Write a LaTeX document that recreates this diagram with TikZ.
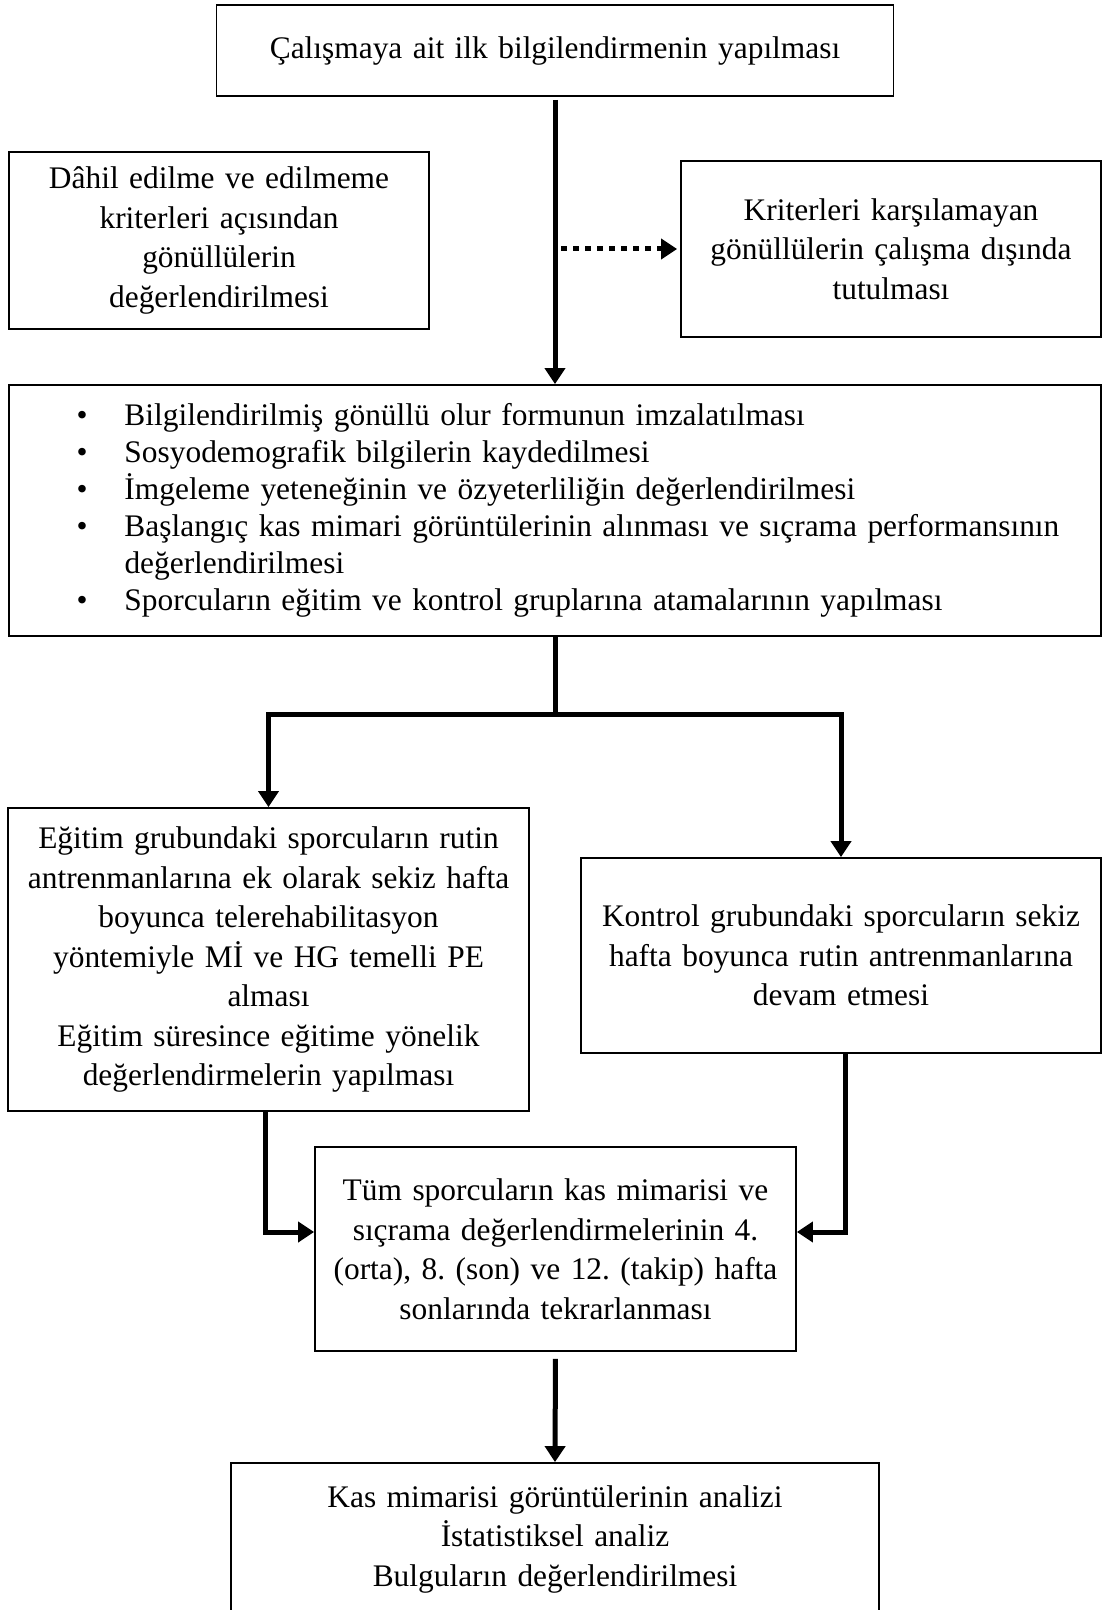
\documentclass[tikz,border=0pt]{standalone}
\usepackage{fontspec}
\setmainfont{Liberation Serif}
\usetikzlibrary{arrows.meta}
\frenchspacing
\newcommand\bitem[1]{\mbox{\makebox[24pt][l]{\textbullet}#1}}
\newcommand\bcont[1]{\mbox{\hspace*{24pt}#1}}
\begin{document}
\begin{tikzpicture}[x=0.5pt,y=-0.5pt,
  box/.style={draw, line width=0.9pt, inner sep=0pt, align=center,
              font=\fontsize{15.7pt}{19.75pt}\selectfont},
  arr/.style={line width=2.5pt, -{Triangle[length=8pt,width=10pt]}},
  dotarr/.style={line width=2.5pt, dash pattern=on 3pt off 3pt,
                 -{Triangle[length=8pt,width=10pt]}},
  bar/.style={line width=2.5pt}]
\useasboundingbox (0,0) rectangle (1102,1610);

\node[box, minimum width=338.5pt, minimum height=45.5pt, text width=330pt]
  (top) at (555,50.5) {Çalışmaya ait ilk bilgilendirmenin yapılması};

\node[box, minimum width=210pt, minimum height=88.5pt, text width=200pt]
  (crit) at (219,240.5) {Dâhil edilme ve edilmeme\\ kriterleri açısından\\ gönüllülerin\\ değerlendirilmesi};

\node[box, minimum width=210pt, minimum height=88pt, text width=200pt]
  (excl) at (891,249) {Kriterleri karşılamayan\\ gönüllülerin çalışma dışında\\ tutulması};

\node[box, minimum width=546pt, minimum height=125.5pt, text width=478.5pt,
      align=left, font=\fontsize{15.7pt}{18.5pt}\selectfont]
  (bul) at (555,510.5) {%
  \bitem{Bilgilendirilmiş gönüllü olur formunun imzalatılması}\\
  \bitem{Sosyodemografik bilgilerin kaydedilmesi}\\
  \bitem{İmgeleme yeteneğinin ve özyeterliliğin değerlendirilmesi}\\
  \bitem{Başlangıç kas mimari görüntülerinin alınması ve sıçrama performansının}\\
  \bcont{değerlendirilmesi}\\
  \bitem{Sporcuların eğitim ve kontrol gruplarına atamalarının yapılması}};

\node[box, minimum width=260.5pt, minimum height=151.5pt, text width=255pt]
  (egit) at (268.5,959.5) {Eğitim grubundaki sporcuların rutin\\
  antrenmanlarına ek olarak sekiz hafta\\
  boyunca telerehabilitasyon\\
  yöntemiyle Mİ ve HG temelli PE\\
  alması\\
  Eğitim süresince eğitime yönelik\\
  değerlendirmelerin yapılması};

\node[box, minimum width=260pt, minimum height=97.5pt, text width=255pt]
  (kontrol) at (841,955.5) {Kontrol grubundaki sporcuların sekiz\\
  hafta boyunca rutin antrenmanlarına\\
  devam etmesi};

\node[box, minimum width=240.5pt, minimum height=102pt, text width=235pt]
  (tum) at (555.5,1249) {Tüm sporcuların kas mimarisi ve\\
  sıçrama değerlendirmelerinin 4.\\
  (orta), 8. (son) ve 12. (takip) hafta\\
  sonlarında tekrarlanması};

\node[box, minimum width=324pt, minimum height=76pt, text width=315pt]
  (son) at (555,1539) {Kas mimarisi görüntülerinin analizi\\
  İstatistiksel analiz\\
  Bulguların değerlendirilmesi};

% connectors
\draw[arr, shorten <=1.5pt] (top.south) -- (top.south |- bul.north);
\coordinate (dj) at (top.south |- excl.west);
\draw[dotarr, shorten <=3pt, shorten >=1.5pt] (dj) -- (excl.west);

\coordinate (br) at (555,714);
\draw[bar] (bul.south) -- (br);
\draw[arr] (br) -| (egit.north);
\draw[arr] (br) -| (kontrol.north);

\draw[arr] ([xshift=-1.75pt]egit.south) |- ([yshift=8.5pt]tum.west);
\draw[arr] ([xshift=2pt]kontrol.south) |- ([yshift=8.5pt]tum.east);
\draw[arr, shorten <=3.5pt] (tum.south) -- (son.north);
\end{tikzpicture}
\end{document}
